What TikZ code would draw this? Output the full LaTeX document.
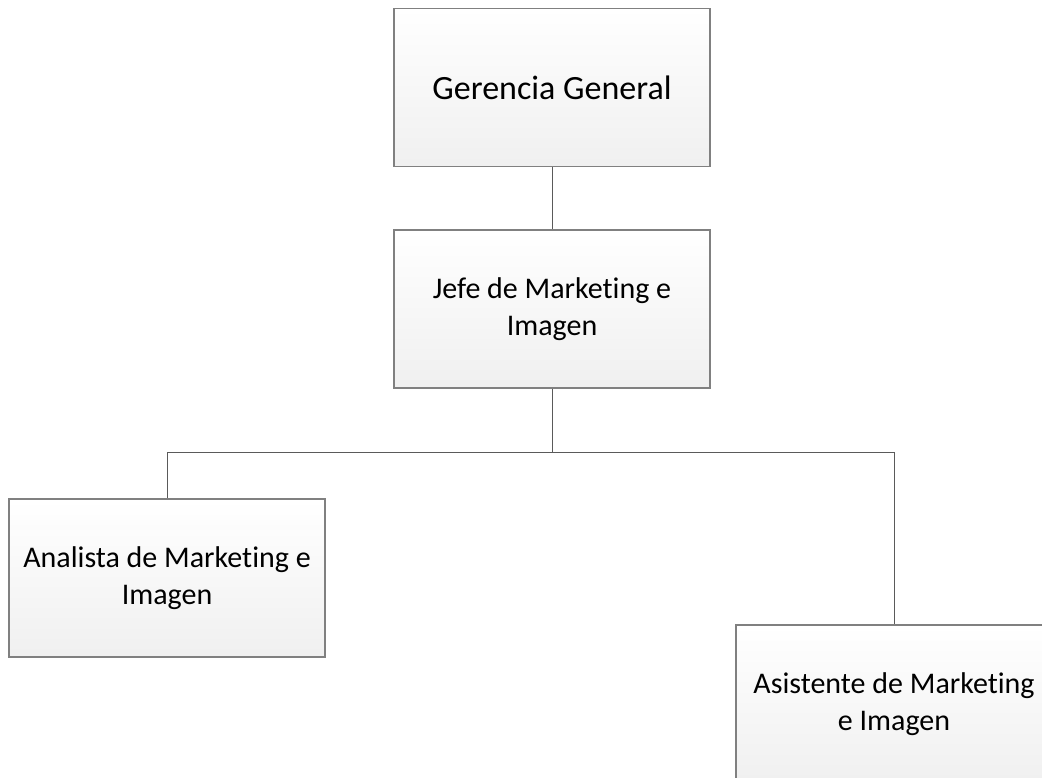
\documentclass[tikz,border=0pt]{standalone}
\usepackage{fontspec}
\setmainfont{Carlito}[Ligatures=NoCommon]
\usetikzlibrary{positioning}
\definecolor{boxline}{RGB}{128,128,128}
\definecolor{linkline}{RGB}{90,90,90}
\tikzset{
  orgbox/.style={draw=boxline, line width=1.3pt, top color=white, bottom color=black!6,
    minimum width=316pt, minimum height=158pt, align=center, inner sep=0pt,
    font=\fontsize{30}{37}\selectfont},
  link/.style={draw=linkline, line width=1pt}
}
\begin{document}
\begin{tikzpicture}[x=1pt,y=-1pt]
  \useasboundingbox (0,0) rectangle (1042,778);
  \node[orgbox, font=\fontsize{34}{40}\selectfont] (gg) at (552,87.5) {Gerencia General};
  \node[orgbox] (jefe) at (552,309) {Jefe de Marketing e\\Imagen};
  \node[orgbox] (analista) at (167,578) {Analista de Marketing e\\Imagen};
  \node[orgbox] (asist) at (894,704) {Asistente de Marketing\\e Imagen};
  \coordinate (bus) at (552,452);
  \draw[link] (gg) -- (jefe);
  \draw[link] (jefe) -- (bus);
  \draw[link] (bus) -| (analista);
  \draw[link] (bus) -| (asist);
\end{tikzpicture}
\end{document}
